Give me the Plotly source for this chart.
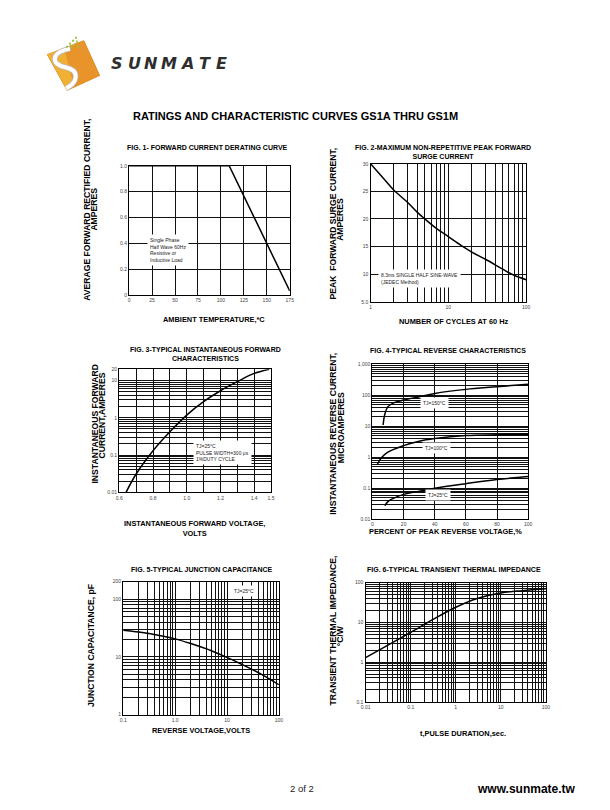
import math
import plotly.graph_objects as go

# ---------------- data ----------------
fig1_temp = [0, 109, 175]
fig1_current = [1.0, 1.0, 0.03]

fig2_cycles = [1, 1.5, 2, 3, 4, 5, 7, 10, 15, 20, 30, 50, 70, 100]
fig2_surge = [30, 27.2, 25.2, 23.0, 21.2, 20.0, 18.3, 16.8, 15.1, 14.0, 12.7, 10.9, 9.8, 9.0]

fig3_voltage = [0.64, 0.7, 0.8, 0.9, 1.0, 1.1, 1.2, 1.3, 1.4, 1.49]
fig3_current = [0.01, 0.031, 0.13, 0.42, 1.18, 2.7, 5.3, 9.3, 15.5, 20]

fig4_pct_150 = [6.8, 7.8, 9.9, 14, 20, 30, 40, 60, 80, 100]
fig4_ir_150 = [11, 23, 43, 58, 70, 90, 115, 155, 188, 229]
fig4_pct_100 = [3, 5.7, 9.9, 20, 30, 40, 60, 80, 100]
fig4_ir_100 = [0.57, 0.96, 1.46, 2.37, 3.3, 4.0, 5.0, 5.3, 5.5]
fig4_pct_25 = [8, 9.9, 20, 30, 40, 60, 80, 100]
fig4_ir_25 = [0.027, 0.037, 0.063, 0.08, 0.1, 0.14, 0.19, 0.24]

fig5_volts = [0.1, 0.2, 0.5, 1, 2, 5, 10, 20, 50, 100]
fig5_cap = [29, 27, 23.5, 20.5, 17, 12.8, 9.8, 7.3, 4.8, 3.3]

fig6_time = [0.01, 0.03, 0.1, 0.3, 1, 3, 10, 30, 100]
fig6_imp = [1.3, 2.6, 5.6, 11.5, 24, 40, 55, 63, 70]

# tick labels
fig1_xticks = [0, 25, 50, 75, 100, 125, 150, 175]
fig1_yticks = [0, 0.2, 0.4, 0.6, 0.8, 1.0]
fig1_ylabels = ["0", "0.2", "0.4", "0.6", "0.8", "1.0"]
fig2_yticks = [5, 10, 15, 20, 25, 30]
fig2_ylabels = ["5.0", "10", "15", "20", "25", "30"]
fig3_xticks = [0.6, 0.7, 0.8, 0.9, 1.0, 1.1, 1.2, 1.3, 1.4, 1.5]
fig3_xlabels = ["0.6", "", "0.8", "", "1.0", "", "1.2", "", "1.4", "1.5"]
fig4_xticks = [0, 20, 40, 60, 80, 100]

W, H = 610, 810
FONT = "Liberation Sans, Arial, sans-serif"


def px_x(p):
    return p / W


def px_y(p):
    return 1 - p / H


def log_grid(lo_exp, hi_exp, labels):
    vals, texts = [], []
    for e in range(lo_exp, hi_exp):
        for m in range(1, 10):
            v = m * 10 ** e
            vals.append(v)
            texts.append(labels.get(round(math.log10(v), 6), ""))
    vals.append(10 ** hi_exp)
    texts.append(labels.get(float(hi_exp), ""))
    return vals, texts


tickfont = dict(size=5, color="#444", family=FONT)


def axis(dom, anchor, **kw):
    d = dict(domain=dom, anchor=anchor, showline=True, mirror=True,
             linecolor="black", linewidth=1.4, showgrid=True,
             gridcolor="#111", gridwidth=1, ticks="", zeroline=False,
             tickfont=tickfont, ticklen=0)
    d.update(kw)
    return d


fig = go.Figure()
line = dict(color="black", width=1.5)
sline = dict(color="black", width=1.5, shape="spline")

fig.add_trace(go.Scatter(x=fig1_temp, y=fig1_current, mode="lines", line=line, xaxis="x", yaxis="y"))
fig.add_trace(go.Scatter(x=fig2_cycles, y=fig2_surge, mode="lines", line=sline, xaxis="x2", yaxis="y2"))
fig.add_trace(go.Scatter(x=fig3_voltage, y=fig3_current, mode="lines", line=sline, xaxis="x3", yaxis="y3"))
fig.add_trace(go.Scatter(x=fig4_pct_150, y=fig4_ir_150, mode="lines", line=sline, xaxis="x4", yaxis="y4"))
fig.add_trace(go.Scatter(x=fig4_pct_100, y=fig4_ir_100, mode="lines", line=sline, xaxis="x4", yaxis="y4"))
fig.add_trace(go.Scatter(x=fig4_pct_25, y=fig4_ir_25, mode="lines", line=sline, xaxis="x4", yaxis="y4"))
fig.add_trace(go.Scatter(x=fig5_volts, y=fig5_cap, mode="lines", line=sline, xaxis="x5", yaxis="y5"))
fig.add_trace(go.Scatter(x=fig6_time, y=fig6_imp, mode="lines", line=sline, xaxis="x6", yaxis="y6"))

f2x_v, f2x_t = log_grid(0, 2, {0.0: "1", 1.0: "10", 2.0: "100"})
f3y_v, f3y_t = log_grid(-2, 1, {-2.0: "0.01", -1.0: "0.1", 0.0: "1", 1.0: "10"})
f3y_v.append(20); f3y_t.append("20")
f4y_v, f4y_t = log_grid(-2, 3, {-2.0: "0.01", -1.0: "0.1", 0.0: "1", 1.0: "10", 2.0: "100", 3.0: "1,000"})
f5x_v, f5x_t = log_grid(-1, 2, {-1.0: "0.1", 0.0: "1.0", 1.0: "10", 2.0: "100"})
f5y_v, f5y_t = log_grid(0, 2, {0.0: "1", 1.0: "10", 2.0: "100"})
f5y_v.append(200); f5y_t.append("200")
f6x_v, f6x_t = log_grid(-2, 2, {-2.0: "0.01", -1.0: "0.1", 0.0: "1", 1.0: "10", 2.0: "100"})
f6y_v, f6y_t = log_grid(-1, 2, {-1.0: "0.1", 0.0: "1", 1.0: "10", 2.0: "100"})

fig.update_layout(
    width=W, height=H, margin=dict(l=0, r=0, t=0, b=0),
    paper_bgcolor="white", plot_bgcolor="white", showlegend=False,
    font=dict(family=FONT, color="black"),
    xaxis=axis([px_x(126), px_x(289)], "y", range=[0, 175], tickvals=fig1_xticks),
    yaxis=axis([px_y(294), px_y(164)], "x", range=[0, 1.0], tickvals=fig1_yticks, ticktext=fig1_ylabels, gridwidth=1.4),
    xaxis2=axis([px_x(371), px_x(529)], "y2", type="log", range=[0, 2], tickvals=f2x_v, ticktext=f2x_t),
    yaxis2=axis([px_y(301), px_y(162)], "x2", range=[5, 30], tickvals=fig2_yticks, ticktext=fig2_ylabels, gridwidth=1.4),
    xaxis3=axis([px_x(116), px_x(270)], "y3", range=[0.6, 1.5], tickvals=fig3_xticks, ticktext=fig3_xlabels),
    yaxis3=axis([px_y(493), px_y(369)], "x3", type="log", range=[-2, math.log10(20)], tickvals=f3y_v, ticktext=f3y_t),
    xaxis4=axis([px_x(373), px_x(531)], "y4", range=[0, 100], tickvals=fig4_xticks),
    yaxis4=axis([px_y(520), px_y(364)], "x4", type="log", range=[-2, 3], tickvals=f4y_v, ticktext=f4y_t),
    xaxis5=axis([px_x(120), px_x(278)], "y5", type="log", range=[-1, 2], tickvals=f5x_v, ticktext=f5x_t),
    yaxis5=axis([px_y(717), px_y(583)], "x5", type="log", range=[0, math.log10(200)], tickvals=f5y_v, ticktext=f5y_t),
    xaxis6=axis([px_x(366), px_x(549)], "y6", type="log", range=[-2, 2], tickvals=f6x_v, ticktext=f6x_t),
    yaxis6=axis([px_y(704), px_y(584)], "x6", type="log", range=[-1, 2], tickvals=f6y_v, ticktext=f6y_t),
)

ann = []


def text(x, y, s, size=7.2, bold=True, family=FONT, angle=0, xanchor="center", color="black"):
    ann.append(dict(x=px_x(x), y=px_y(y), xref="paper", yref="paper", text=s,
                    showarrow=False, textangle=angle, xanchor=xanchor, yanchor="middle",
                    font=dict(size=size, family=family, color=color,
                              weight="bold" if bold else "normal")))


TS = 7.0   # figure titles
XS = 7.4   # x titles
YS = 8.6   # y titles

# main title & footer
text(294.5, 114, "RATINGS AND CHARACTERISTIC CURVES GS1A THRU GS1M", size=11)
text(301.5, 791.5, "2 of 2", size=9.5, bold=False, color="#222")
text(529, 791.5, "www.sunmate.tw", size=12)

# figure titles
text(206, 146, "FIG. 1- FORWARD CURRENT DERATING CURVE", size=TS)
text(445, 150.5, "FIG. 2-MAXIMUM NON-REPETITIVE PEAK FORWARD<br>SURGE CURRENT", size=TS)
text(203, 354, "FIG. 3-TYPICAL INSTANTANEOUS FORWARD<br>CHARACTERISTICS", size=TS)
text(450, 350.5, "FIG. 4-TYPICAL REVERSE CHARACTERISTICS", size=TS)
text(200, 570.5, "FIG. 5-TYPICAL JUNCTION CAPACITANCE", size=TS)
text(456, 570.5, "FIG. 6-TYPICAL TRANSIENT THERMAL IMPEDANCE", size=TS)

# x titles
text(212, 318.5, "AMBIENT TEMPERATURE,*C", size=XS)
text(456, 320.5, "NUMBER OF CYCLES AT 60 Hz", size=XS)
text(192, 529.5, "INSTANTANEOUS FORWARD VOLTAGE,<br>VOLTS", size=XS)
text(447, 532.5, "PERCENT OF PEAK REVERSE VOLTAGE,%", size=XS)
text(199, 732.5, "REVERSE VOLTAGE,VOLTS", size=XS)
text(465, 736, "t,PULSE DURATION,sec.", size=XS)

# y titles (rotated)
text(83.5, 208, "AVERAGE FORWARD RECTIFIED CURRENT,", size=YS, angle=-90)
text(90.5, 208, "AMPERES", size=YS, angle=-90)
text(333, 222, "PEAK  FORWARD SURGE CURRENT,", size=YS, angle=-90)
text(340.5, 218, "AMPERES", size=YS, angle=-90)
text(91, 424, "INSTANTANEOUS FORWARD", size=YS, angle=-90)
text(98, 416, "CURRENT,AMPERES", size=YS, angle=-90)
text(333, 434, "INSTANTANEOUS REVERSE CURRENT,", size=YS, angle=-90)
text(340.5, 428, "MICROAMPERES", size=YS, angle=-90)
text(87, 647, "JUNCTION CAPACITANCE, pF", size=YS, angle=-90)
text(333, 632, "TRANSIENT THERMAL IMPEDANCE,", size=YS, angle=-90)
text(340, 637, "°C/W", size=YS, angle=-90)


def box(xref, yref, x, y, s, xanchor="left"):
    ann.append(dict(x=x, y=y, xref=xref, yref=yref, text=s, showarrow=False,
                    xanchor=xanchor, yanchor="middle", align="left",
                    bgcolor="white", borderpad=2,
                    font=dict(size=5, family=FONT, color="#222")))


box("x", "y", 20, 0.35, "Single Phase<br>Half Wave 60Hz<br>Resistive or<br>Inductive Load")
box("x2", "y2", math.log10(1.25), 9.3, "8.3ms SINGLE HALF SINE-WAVE<br>(JEDEC Method)")
box("x3", "y3", 1.04, math.log10(0.116), "TJ=25°C<br>PULSE WIDTH=300 μs<br>1%DUTY CYCLE")
box("x4", "y4", 40, math.log10(57), "TJ=150°C", xanchor="center")
box("x4", "y4", 41, math.log10(2.0), "TJ=100°C", xanchor="center")
box("x4", "y4", 42, math.log10(0.062), "TJ=25°C", xanchor="center")
box("x5", "y5", math.log10(21.6), math.log10(139), "TJ=25°C", xanchor="center")

# logo
logo_letters = ["S", "U", "N", "M", "A", "T", "E"]
logo_x = [114, 131, 148, 166, 185, 203, 220]
for ch, lx in zip(logo_letters, logo_x):
    ann.append(dict(x=px_x(lx), y=px_y(60.5), xref="paper", yref="paper", text=ch,
                    showarrow=False, xanchor="center", yanchor="middle",
                    font=dict(size=16, family="DejaVu Sans", color="#2e2e2e",
                              weight="bold", style="italic")))

fig.update_layout(annotations=ann)


def pth(cmds):
    out = []
    for c in cmds:
        if isinstance(c, str):
            out.append(c)
        else:
            out.append(f"{px_x(c[0]):.5f},{px_y(c[1]):.5f}")
    return " ".join(out)


shapes = []
shapes.append(dict(type="path", xref="paper", yref="paper",
                   path=pth(["M", (43, 52), "L", (80, 38), "L", (96, 73), "L", (63, 88), "Z"]),
                   fillcolor="#E8942A", line=dict(color="#E08A22", width=1)))
shapes.append(dict(type="path", xref="paper", yref="paper",
                   path=pth(["M", (43, 52), "L", (60, 45), "L", (70, 84), "L", (63, 88), "Z"]),
                   fillcolor="#F0B034", line=dict(width=0)))
shapes.append(dict(type="path", xref="paper", yref="paper",
                   path=pth(["M", (66, 46), "C", (46, 50), (46, 62), (62, 65), "C", (76, 68), (74, 80), (62, 86)]),
                   fillcolor="rgba(0,0,0,0)", line=dict(color="#bbbbbb", width=5.5)))
shapes.append(dict(type="path", xref="paper", yref="paper",
                   path=pth(["M", (66, 46), "C", (46, 50), (46, 62), (62, 65), "C", (76, 68), (74, 80), (62, 86)]),
                   fillcolor="rgba(0,0,0,0)", line=dict(color="white", width=4)))
dots = [(63, 44), (66, 41), (69, 38), (72, 35), (67, 45), (70, 42), (73, 39), (74, 44)]
for dx, dy in dots:
    shapes.append(dict(type="rect", xref="paper", yref="paper",
                       x0=px_x(dx - 1), x1=px_x(dx + 1), y0=px_y(dy + 1), y1=px_y(dy - 1),
                       fillcolor="#9CC43E", line=dict(width=0)))
fig.update_layout(shapes=shapes)

fig.write_html("out.html", config={"displayModeBar": False},
               post_script="document.body.style.margin='0px';document.body.style.overflow='hidden';")
